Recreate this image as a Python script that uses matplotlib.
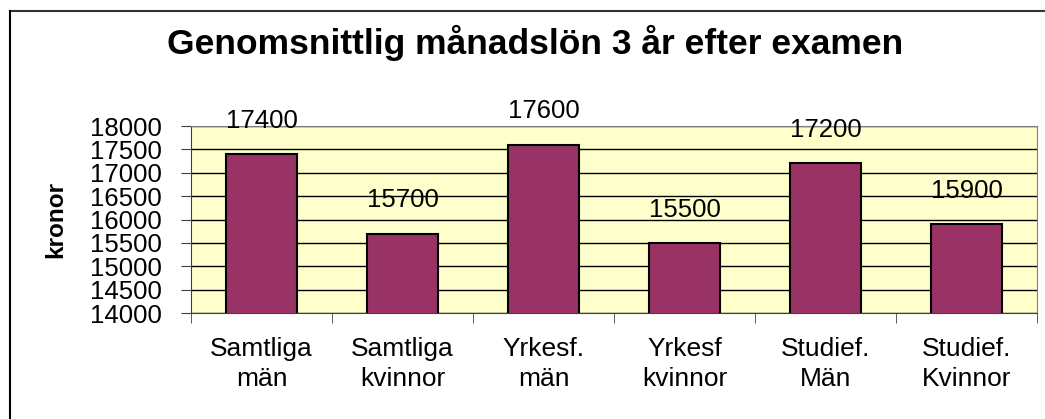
import matplotlib.pyplot as plt
from matplotlib.lines import Line2D

plt.rcParams['font.family'] = ['Liberation Sans', 'DejaVu Sans']

kategorier = ['Samtliga\nmän', 'Samtliga\nkvinnor', 'Yrkesf.\nmän',
              'Yrkesf\nkvinnor', 'Studief.\nMän', 'Studief.\nKvinnor']
lon = [17400, 15700, 17600, 15500, 17200, 15900]
y_ticks = [14000, 14500, 15000, 15500, 16000, 16500, 17000, 17500, 18000]

fig = plt.figure(figsize=(10.45, 4.19), dpi=100)
ax = fig.add_axes([191 / 1045, 1 - 313 / 419, 846 / 1045, 187 / 419])

ax.set_facecolor('#FFFFCC')
x = range(len(lon))
ax.bar(x, lon, width=0.5, color='#993366', edgecolor='black', linewidth=1.5, zorder=3)

for i, v in zip(x, lon):
    ax.annotate(str(v), (i, v), xytext=(0, 24), textcoords='offset points',
                ha='center', va='center', fontsize=18.5, annotation_clip=False, zorder=4)

ax.set_ylim(14000, 18000)
ax.set_xlim(-0.5, len(lon) - 0.5)
ax.set_yticks(y_ticks)
ax.set_yticklabels([str(t) for t in y_ticks], fontsize=18.5)
ax.yaxis.grid(True, color='black', linewidth=1, zorder=1)

ax.set_xticks(list(x))
ax.set_xticklabels(kategorier, fontsize=19, linespacing=1.35)
ax.set_xticks([i - 0.5 for i in range(len(lon) + 1)], minor=True)
ax.tick_params(axis='x', which='major', length=0, pad=17)
ax.tick_params(axis='x', which='minor', length=7, direction='out', color='#404040')
ax.tick_params(axis='y', length=7, direction='out', color='#404040', pad=14)

for s in ['top', 'right']:
    ax.spines[s].set_color('#808080')
for s in ['left', 'bottom']:
    ax.spines[s].set_color('#404040')

ax.set_ylabel('kronor', fontsize=17.5, fontweight='bold', va='center')
ax.yaxis.set_label_coords((56 - 191) / 846, 0.5)

fig.text(535 / 1045, 1 - 54 / 419, 'Genomsnittlig månadslön 3 år efter examen',
         ha='center', va='baseline', fontsize=25.5, fontweight='bold')

# ram runt diagrammet (bara topp och vänster syns i bilden)
fig.add_artist(Line2D([9.5 / 1045, 1], [1 - 11 / 419] * 2, color='#333333',
                      linewidth=1.5, transform=fig.transFigure))
fig.add_artist(Line2D([9.5 / 1045] * 2, [0, 1 - 11 / 419], color='black',
                      linewidth=1.5, transform=fig.transFigure))

fig.savefig('out.png', dpi=100)
